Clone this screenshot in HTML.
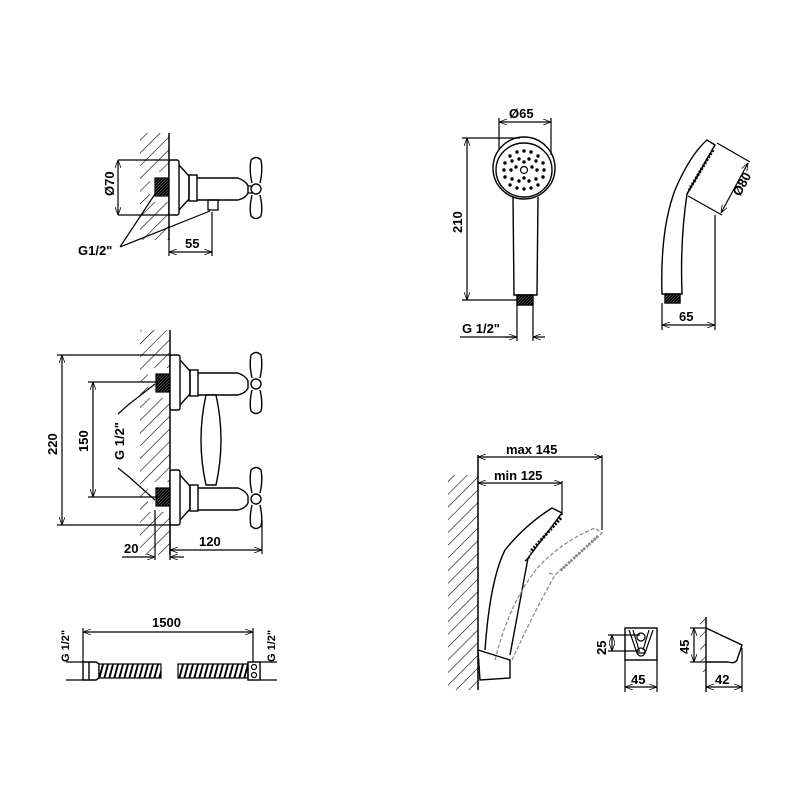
<!DOCTYPE html>
<html><head><meta charset="utf-8"><style>
html,body{margin:0;padding:0;background:#fff;}
svg{display:block}
text{font-family:"Liberation Sans",Arial,sans-serif;font-size:13px;font-weight:bold;fill:#000}
</style></head><body>
<svg width="800" height="800" viewBox="0 0 800 800" xmlns="http://www.w3.org/2000/svg">
<defs>
<pattern id="hat" patternUnits="userSpaceOnUse" width="9" height="9" patternTransform="rotate(45)">
<line x1="0" y1="0" x2="0" y2="9" stroke="#000" stroke-width="1.2"/>
</pattern>
<pattern id="coil" patternUnits="userSpaceOnUse" width="5" height="20" patternTransform="skewX(-15)">
<rect width="5" height="20" fill="#fff"/><line x1="1" y1="0" x2="1" y2="20" stroke="#000" stroke-width="2"/>
</pattern>
<pattern id="thr" patternUnits="userSpaceOnUse" width="3" height="3">
<rect width="3" height="3" fill="#000"/><line x1="0" y1="3" x2="3" y2="0" stroke="#777" stroke-width="0.6"/>
</pattern>
<marker id="a" markerWidth="8" markerHeight="6" refX="8" refY="3" orient="auto-start-reverse" markerUnits="userSpaceOnUse"><path d="M0,0 L8,3 L0,6" fill="none" stroke="#000" stroke-width="0.8"/></marker>
</defs>
<g fill="none" stroke="#000" stroke-width="1.2">

<!-- ===== top-left mixer ===== -->
<rect x="140" y="133" width="29" height="107" fill="url(#hat)" stroke="none"/>
<rect x="150" y="172" width="19" height="30" fill="#fff" stroke="none"/>
<line x1="169" y1="133" x2="169" y2="240" stroke-width="1.5"/>
<rect x="155" y="178" width="14" height="18" fill="url(#thr)"/>
<rect x="169" y="160" width="10" height="55" rx="2" fill="#fff" stroke-width="1.4"/>
<path d="M179 165 L189 176 L189 199 L179 210" stroke-width="1.4"/>
<rect x="189" y="175" width="8" height="26" stroke-width="1.4"/>
<path d="M197 178 L238 178 Q246 181 248 186 L248 193 Q246 198 238 200 L197 200" stroke-width="1.4"/>
<rect x="208" y="200" width="10" height="10" stroke-width="1.3"/>
<path d="M248 186 L253 186 M248 193 L253 193" stroke-width="1.3"/>
<circle cx="256" cy="189" r="5" stroke-width="1.4"/>
<path d="M252 183 Q249 170 251 160 Q256 155 261 160 Q263 170 260 183 M252 195 Q249 208 251 216 Q256 221 261 216 Q263 208 260 195" stroke-width="1.4"/>
<line x1="118" y1="160" x2="169" y2="160"/><line x1="118" y1="215" x2="169" y2="215"/>
<line x1="118" y1="160" x2="118" y2="215" marker-start="url(#a)" marker-end="url(#a)"/>
<line x1="212" y1="212" x2="212" y2="256"/><line x1="169" y1="240" x2="169" y2="256"/>
<line x1="169" y1="252" x2="212" y2="252" marker-start="url(#a)" marker-end="url(#a)"/>
<path d="M120 247 L155 194 M120 247 L210 211"/>

<!-- ===== middle mixer ===== -->
<rect x="140" y="330" width="30" height="225" fill="url(#hat)" stroke="none"/>
<rect x="148" y="368" width="22" height="30" fill="#fff" stroke="none"/>
<rect x="148" y="482" width="22" height="30" fill="#fff" stroke="none"/>
<line x1="170" y1="330" x2="170" y2="555" stroke-width="1.5"/>
<rect x="156" y="374" width="14" height="18" fill="url(#thr)"/>
<rect x="156" y="488" width="14" height="18" fill="url(#thr)"/>
<g stroke-width="1.4">
<rect x="170" y="355" width="10" height="55" rx="2" fill="#fff"/>
<path d="M180 360 L190 371 L190 394 L180 405"/>
<rect x="190" y="370" width="8" height="26"/>
<path d="M198 373 L238 373 Q246 376 248 381 L248 388 Q246 393 238 395 L198 395"/>
<circle cx="256" cy="384" r="5"/>
<path d="M252 378 Q249 365 251 355 Q256 350 261 355 Q263 365 260 378 M252 390 Q249 403 251 411 Q256 416 261 411 Q263 403 260 390"/>
<rect x="170" y="470" width="10" height="55" rx="2" fill="#fff"/>
<path d="M180 475 L190 486 L190 509 L180 520"/>
<rect x="190" y="485" width="8" height="26"/>
<path d="M198 488 L238 488 Q246 491 248 496 L248 503 Q246 508 238 510 L198 510"/>
<circle cx="256" cy="499" r="5"/>
<path d="M252 493 Q249 480 251 470 Q256 465 261 470 Q263 480 260 493 M252 505 Q249 518 251 526 Q256 531 261 526 Q263 518 260 505"/>
<path d="M206 395 Q196 440 206 485 L216 485 Q226 440 216 395 Z" fill="#fff"/>
</g>
<line x1="57" y1="355" x2="170" y2="355"/><line x1="57" y1="525" x2="170" y2="525"/>
<line x1="62" y1="355" x2="62" y2="525" marker-start="url(#a)" marker-end="url(#a)"/>
<line x1="88" y1="382" x2="158" y2="382"/><line x1="88" y1="497" x2="158" y2="497"/>
<line x1="93" y1="382" x2="93" y2="497" marker-start="url(#a)" marker-end="url(#a)"/>
<path d="M118 414 L128 405 L155 384 M118 468 L128 476 L155 500"/>
<line x1="155" y1="510" x2="155" y2="560"/><line x1="170" y1="525" x2="170" y2="560"/>
<line x1="122" y1="557" x2="155" y2="557" marker-end="url(#a)"/><line x1="184" y1="557" x2="170" y2="557" marker-end="url(#a)"/>
<line x1="262" y1="520" x2="262" y2="554"/>
<line x1="170" y1="550" x2="262" y2="550" marker-start="url(#a)" marker-end="url(#a)"/>

<!-- ===== hose ===== -->
<line x1="83" y1="628" x2="83" y2="662"/><line x1="253" y1="628" x2="253" y2="662"/>
<line x1="83" y1="632" x2="253" y2="632" marker-start="url(#a)" marker-end="url(#a)"/>
<line x1="66" y1="662" x2="83" y2="662"/><line x1="66" y1="680" x2="83" y2="680"/>
<line x1="260" y1="662" x2="277" y2="662"/><line x1="260" y1="680" x2="277" y2="680"/>
<path d="M83 662 L96 662 L99 664 L99 678 L96 680 L83 680 Z M89 662 L89 680" stroke-width="1.4"/>
<rect x="99" y="664" width="62" height="14" fill="url(#coil)"/>
<rect x="178" y="664" width="70" height="14" fill="url(#coil)"/>
<rect x="248" y="662" width="12" height="18" stroke-width="1.4"/>
<circle cx="254" cy="667" r="2.5"/><circle cx="254" cy="675" r="2.5"/>

<!-- ===== shower head front ===== -->
<g stroke-width="1.4">
<ellipse cx="524" cy="168" rx="31" ry="31" fill="#fff"/>
<ellipse cx="524" cy="170" rx="28" ry="27"/>
<path d="M513 197 L514 295 L537 295 L538 197"/>
<rect x="517" y="295" width="16" height="10" fill="url(#thr)"/>
</g>
<circle cx="524" cy="170" r="3.5"/>
<line x1="499" y1="118" x2="499" y2="150"/><line x1="551" y1="118" x2="551" y2="155"/>
<line x1="499" y1="122" x2="551" y2="122" marker-start="url(#a)" marker-end="url(#a)"/>
<line x1="462" y1="138" x2="520" y2="138"/><line x1="462" y1="300" x2="517" y2="300"/>
<line x1="467" y1="138" x2="467" y2="300" marker-start="url(#a)" marker-end="url(#a)"/>
<line x1="517" y1="305" x2="517" y2="341"/><line x1="533" y1="305" x2="533" y2="341"/>
<line x1="460" y1="337" x2="517" y2="337"/><line x1="505" y1="337" x2="517" y2="337" marker-end="url(#a)"/><line x1="545" y1="337" x2="533" y2="337" marker-end="url(#a)"/>

<!-- ===== shower head side ===== -->
<g stroke-width="1.4">
<path d="M662 294 Q660 230 675 190 Q690 155 707 140 L715 145 L687 194 Q680 240 682 294 Z" fill="#fff"/>
<path d="M715 145 L687 194"/>
<rect x="665" y="294" width="15" height="9" fill="url(#thr)"/>
</g>
<path d="M713 150 L689 190" stroke-width="3" stroke-dasharray="2,1.5"/>
<line x1="717" y1="143" x2="750" y2="162"/><line x1="688" y1="196" x2="722" y2="215"/>
<line x1="748" y1="163" x2="721" y2="213" marker-start="url(#a)" marker-end="url(#a)"/>
<line x1="662" y1="303" x2="662" y2="330"/><line x1="715" y1="215" x2="715" y2="330"/>
<line x1="662" y1="325" x2="715" y2="325" marker-start="url(#a)" marker-end="url(#a)"/>

<!-- ===== bottom right shower with holder ===== -->
<rect x="448" y="475" width="30" height="215" fill="url(#hat)" stroke="none"/>
<line x1="478" y1="455" x2="478" y2="690" stroke-width="1.5"/>
<line x1="478" y1="457" x2="602" y2="457" marker-start="url(#a)" marker-end="url(#a)"/>
<line x1="602" y1="455" x2="602" y2="530"/>
<line x1="478" y1="483" x2="562" y2="483" marker-start="url(#a)" marker-end="url(#a)"/>
<line x1="562" y1="481" x2="562" y2="515"/>
<g stroke-width="1.4">
<path d="M485 650 Q490 580 505 550 Q525 525 552 508 L562 513 L528 558 Q520 600 510 655" fill="#fff"/>
<path d="M530 557 L525 561 M562 513 L558 518"/>
<path d="M478 650 L510 660 L510 678 L480 680 Z" fill="#fff"/>
</g>
<path d="M561 518 L530 552" stroke-width="3" stroke-dasharray="2,1.5"/>
<g stroke="#888" stroke-dasharray="4,2">
<path d="M495 660 Q510 600 540 565 Q565 540 595 528 L602 533 L555 575 Q535 610 512 660"/>
<path d="M549 573 L555 575"/>
</g>
<path d="M598 536 L560 571" stroke="#888" stroke-width="3" stroke-dasharray="2,1.5"/>

<!-- small holder front -->
<rect x="625" y="628" width="32" height="32" stroke-width="1.4"/>
<path d="M629 630 L637 653 L645 653 L653 630 M633 630 L639 650 M649 630 L643 650"/>
<circle cx="641" cy="637" r="4"/><circle cx="641" cy="652" r="4"/>
<line x1="608" y1="635" x2="640" y2="635"/><line x1="608" y1="651" x2="640" y2="651"/>
<line x1="612" y1="635" x2="612" y2="651" marker-start="url(#a)" marker-end="url(#a)"/>
<line x1="625" y1="660" x2="625" y2="692"/><line x1="657" y1="660" x2="657" y2="692"/>
<line x1="625" y1="687" x2="657" y2="687" marker-start="url(#a)" marker-end="url(#a)"/>

<!-- small holder side -->
<rect x="700" y="617" width="6" height="55" fill="url(#hat)" stroke="none"/>
<line x1="706" y1="617" x2="706" y2="692" stroke-width="1.4"/>
<path d="M706 628 L742 645 L737 660 Q735 664 728 662 L706 662" stroke-width="1.4"/>
<line x1="690" y1="628" x2="706" y2="628"/><line x1="690" y1="662" x2="706" y2="662"/>
<line x1="694" y1="628" x2="694" y2="662" marker-start="url(#a)" marker-end="url(#a)"/>
<line x1="742" y1="648" x2="742" y2="692"/>
<line x1="706" y1="687" x2="742" y2="687" marker-start="url(#a)" marker-end="url(#a)"/>
</g>

<!-- nozzles front -->
<g fill="#000">
<circle cx="510" cy="156" r="1.7"/><circle cx="517" cy="152" r="1.7"/><circle cx="524" cy="151" r="1.7"/><circle cx="531" cy="152" r="1.7"/><circle cx="538" cy="156" r="1.7"/>
<circle cx="505" cy="163" r="1.7"/><circle cx="512" cy="161" r="1.7"/><circle cx="519" cy="159" r="1.7"/><circle cx="529" cy="159" r="1.7"/><circle cx="536" cy="161" r="1.7"/><circle cx="543" cy="163" r="1.7"/>
<circle cx="504" cy="170" r="1.7"/><circle cx="511" cy="170" r="1.7"/><circle cx="537" cy="170" r="1.7"/><circle cx="544" cy="170" r="1.7"/>
<circle cx="505" cy="177" r="1.7"/><circle cx="512" cy="179" r="1.7"/><circle cx="519" cy="181" r="1.7"/><circle cx="529" cy="181" r="1.7"/><circle cx="536" cy="179" r="1.7"/><circle cx="543" cy="177" r="1.7"/>
<circle cx="510" cy="185" r="1.7"/><circle cx="517" cy="188" r="1.7"/><circle cx="524" cy="189" r="1.7"/><circle cx="531" cy="188" r="1.7"/><circle cx="538" cy="185" r="1.7"/>
<circle cx="524" cy="162" r="1.7"/><circle cx="524" cy="178" r="1.7"/><circle cx="516" cy="167" r="1.7"/><circle cx="532" cy="167" r="1.7"/>
</g>

<!-- labels -->
<text transform="translate(114,196) rotate(-90)">Ø70</text>
<text x="185" y="248">55</text>
<text x="78" y="255">G1/2"</text>
<text transform="translate(57,455) rotate(-90)">220</text>
<text transform="translate(88,452) rotate(-90)">150</text>
<text transform="translate(124,460) rotate(-90)">G 1/2"</text>
<text x="124" y="553">20</text>
<text x="199" y="546">120</text>
<text x="152" y="627">1500</text>
<text transform="translate(69,662) rotate(-90)" style="font-size:11px">G 1/2"</text>
<text transform="translate(275,662) rotate(-90)" style="font-size:11px">G 1/2"</text>
<text x="509" y="118">Ø65</text>
<text transform="translate(462,233) rotate(-90)">210</text>
<text x="462" y="333">G 1/2"</text>
<text transform="translate(740,197) rotate(-62)">Ø80</text>
<text x="679" y="321">65</text>
<text x="506" y="454">max 145</text>
<text x="494" y="480">min 125</text>
<text transform="translate(606,655) rotate(-90)">25</text>
<text x="631" y="684">45</text>
<text transform="translate(689,654) rotate(-90)">45</text>
<text x="715" y="684">42</text>
</svg>
</body></html>
